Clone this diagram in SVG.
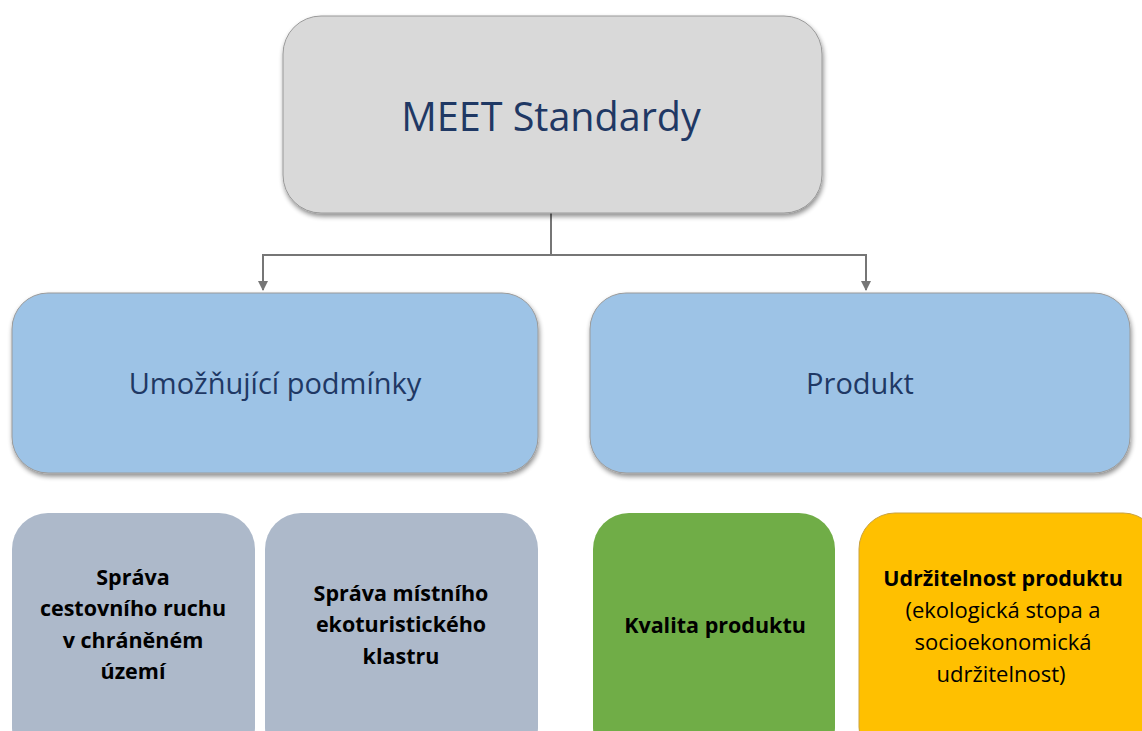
<svg xmlns="http://www.w3.org/2000/svg" width="1142" height="731" viewBox="0 0 1142 731">
  <defs>
    <filter id="shadow" x="-5%" y="-5%" width="110%" height="115%">
      <feGaussianBlur in="SourceAlpha" stdDeviation="2.5"/>
      <feOffset dx="1" dy="3" result="b"/>
      <feComponentTransfer><feFuncA type="linear" slope="0.45"/></feComponentTransfer>
      <feMerge><feMergeNode/><feMergeNode in="SourceGraphic"/></feMerge>
    </filter>
    <marker id="arrow" viewBox="0 0 10 10" refX="9" refY="5" markerWidth="10" markerHeight="10" markerUnits="userSpaceOnUse" orient="auto">
      <path d="M0,0 L10,5 L0,10 z" fill="#767676"/>
    </marker>
  </defs>
  <style>
    .box { stroke: #9a9a9a; stroke-width: 1; }
    .head { font-family: "Open Sans", "Noto Sans", sans-serif; fill: #1f3864; text-anchor: middle; }
    .sub { font-family: "Open Sans", "Noto Sans", sans-serif; fill: #000; text-anchor: middle; font-size: 22px; }
    .b { font-weight: bold; font-size: 21.5px; }
    .conn { fill: none; stroke: #767676; stroke-width: 2; }
  </style>
  <rect width="1142" height="731" fill="#ffffff"/>

  <g id="connectors">
    <path class="conn" d="M551,213 V255"/>
    <path class="conn" d="M263,255 H866"/>
    <path class="conn" d="M263,254 V290" marker-end="url(#arrow)"/>
    <path class="conn" d="M866,254 V290" marker-end="url(#arrow)"/>
  </g>

  <g id="meet-standardy">
    <rect class="box" x="283" y="16" width="539" height="197" rx="38" fill="#d9d9d9" filter="url(#shadow)"/>
    <text class="head" x="551" y="131" font-size="39.5">MEET Standardy</text>
  </g>

  <g id="umoznujici-podminky">
    <rect class="box" x="12" y="293" width="526" height="180" rx="36" fill="#9dc3e6" filter="url(#shadow)"/>
    <text class="head" x="275" y="394" font-size="29">Umožňující podmínky</text>
  </g>

  <g id="produkt">
    <rect class="box" x="590" y="293" width="540" height="180" rx="36" fill="#9dc3e6" filter="url(#shadow)"/>
    <text class="head" x="860" y="394" font-size="29">Produkt</text>
  </g>

  <g id="sprava-cestovniho-ruchu">
    <rect x="12" y="513" width="243" height="250" rx="36" fill="#adb9ca"/>
    <text class="sub b" x="133" y="585">Správa</text>
    <text class="sub b" x="133" y="616">cestovního ruchu</text>
    <text class="sub b" x="133" y="648">v chráněném</text>
    <text class="sub b" x="133" y="679">území</text>
  </g>

  <g id="sprava-klastru">
    <rect x="265" y="513" width="273" height="250" rx="36" fill="#adb9ca"/>
    <text class="sub b" x="401" y="601">Správa místního</text>
    <text class="sub b" x="401" y="632">ekoturistického</text>
    <text class="sub b" x="401" y="664">klastru</text>
  </g>

  <g id="kvalita-produktu">
    <rect x="593" y="513" width="242" height="250" rx="36" fill="#70ad47"/>
    <text class="sub b" x="715" y="633">Kvalita produktu</text>
  </g>

  <g id="udrzitelnost-produktu">
    <rect x="859" y="513" width="300" height="250" rx="36" fill="#ffc000" stroke="#c9a240" stroke-width="1"/>
    <text class="sub b" x="1003" y="586">Udržitelnost produktu</text>
    <text class="sub" x="1003" y="618">(ekologická stopa a</text>
    <text class="sub" x="1003" y="650">socioekonomická</text>
    <text class="sub" x="1001" y="682">udržitelnost)</text>
  </g>
</svg>
